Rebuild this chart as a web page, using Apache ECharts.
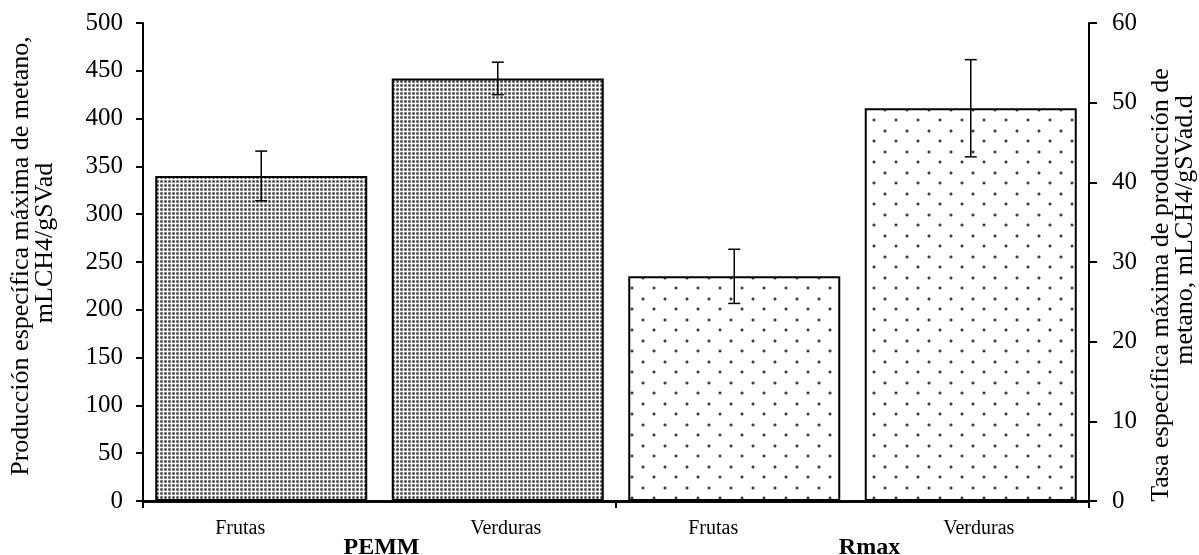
<!DOCTYPE html>
<html>
<head>
<meta charset="utf-8">
<script src="https://cdn.jsdelivr.net/npm/echarts@6/dist/echarts.min.js"></script>
<style>
  html, body { margin: 0; padding: 0; background: #fff; }
  #chart { width: 1199px; height: 555px; }
</style>
</head>
<body>
<div id="chart"></div>
<script>
// Categories and groups along the bottom axis
const categories = ['Frutas', 'Verduras', 'Frutas', 'Verduras'];
const groups = ['PEMM', 'Rmax'];

// PEMM (left axis), mLCH4/gSVad: mean and standard deviation
const pemmMean = [340, 442];
const pemmErr = [26, 17];

// Rmax (right axis), mLCH4/gSVad.d: mean and standard deviation
const rmaxMean = [28.2, 49.3];
const rmaxErr = [3.4, 6.1];

// Axis ticks
const leftTicks = { min: 0, max: 500, interval: 50 };
const rightTicks = { min: 0, max: 60, interval: 10 };

// Axis titles, one entry per line
const leftTitle = ['Producción específica máxima de metano,', 'mLCH4/gSVad'];
const rightTitle = ['Tasa específica máxima de producción de', 'metano, mLCH4/gSVad.d'];

const FONT = '"Liberation Serif", "Times New Roman", serif';

// Fill patterns for the two groups of bars
function densePattern() {
  const c = document.createElement('canvas');
  c.width = 4; c.height = 4;
  const g = c.getContext('2d');
  g.fillStyle = '#ffffff'; g.fillRect(0, 0, 4, 4);
  g.fillStyle = '#a0a0a0'; g.fillRect(0, 0, 3, 3);
  g.fillStyle = '#3a3a3a'; g.fillRect(1, 1, 1, 1);
  g.fillStyle = '#6a6a6a'; g.fillRect(0, 1, 1, 1); g.fillRect(1, 0, 1, 1);
  g.fillRect(2, 1, 1, 1); g.fillRect(1, 2, 1, 1);
  return c;
}
function sparsePattern() {
  const c = document.createElement('canvas');
  c.width = 22; c.height = 21;
  const g = c.getContext('2d');
  g.fillStyle = '#ffffff'; g.fillRect(0, 0, 22, 21);
  g.fillStyle = '#b0b0b0';
  g.fillRect(3, 3, 4, 4); g.fillRect(14, 13, 4, 4);
  g.fillStyle = '#ffffff';
  [[3, 3], [6, 3], [3, 6], [6, 6], [14, 13], [17, 13], [14, 16], [17, 16]]
    .forEach(p => g.fillRect(p[0], p[1], 1, 1));
  g.fillStyle = '#404040';
  g.fillRect(4, 4, 2, 2);
  g.fillRect(15, 14, 2, 2);
  return c;
}

const leftBars = categories.map((_, i) => i < pemmMean.length ? pemmMean[i] : '-');
const rightBars = categories.map((_, i) => i >= pemmMean.length ? rmaxMean[i - pemmMean.length] : '-');
const leftErr = pemmMean.map((m, i) => [i, m - pemmErr[i], m + pemmErr[i]]);
const rightErr = rmaxMean.map((m, i) => [i + pemmMean.length, m - rmaxErr[i], m + rmaxErr[i]]);

function errorBar(params, api) {
  const x = api.value(0);
  const lo = api.coord([x, api.value(1)]);
  const hi = api.coord([x, api.value(2)]);
  const half = 6;
  const style = { stroke: '#000', lineWidth: 1.5 };
  return {
    type: 'group',
    children: [
      { type: 'line', shape: { x1: hi[0], y1: hi[1], x2: lo[0], y2: lo[1] }, style },
      { type: 'line', shape: { x1: hi[0] - half, y1: hi[1], x2: hi[0] + half, y2: hi[1] }, style },
      { type: 'line', shape: { x1: lo[0] - half, y1: lo[1], x2: lo[0] + half, y2: lo[1] }, style }
    ]
  };
}

const chart = echarts.init(document.getElementById('chart'), null, { renderer: 'canvas' });

const axisLineStyle = { color: '#000', width: 2 };
const titleText = { fontFamily: FONT, fontSize: 26, color: '#000', lineHeight: 24 };
const titleLine = pad => Object.assign({}, titleText, { padding: pad });

chart.setOption({
  animation: false,
  backgroundColor: '#fff',
  grid: { left: 143, right: 110, top: 23, bottom: 54, containLabel: false, outerBoundsMode: 'none' },
  xAxis: [
    {
      type: 'category',
      data: categories,
      position: 'bottom',
      axisLine: { show: true, lineStyle: { color: '#000', width: 2.5 } },
      axisTick: { show: false },
      axisLabel: {
        margin: 18,
        interval: 0,
        formatter: v => v === 'Frutas' ? '{f|' + v + '}' : '{v|' + v + '}',
        rich: {
          f: { fontFamily: FONT, fontSize: 20, color: '#000', padding: [0, 42, 0, 0] },
          v: { fontFamily: FONT, fontSize: 20, color: '#000', padding: [0, 0, 0, 16] }
        }
      },
      splitLine: { show: false }
    },
    {
      type: 'category',
      data: groups,
      position: 'bottom',
      offset: 0,
      axisLine: { show: true, lineStyle: { color: '#000', width: 2.5 } },
      axisTick: { show: true, length: 7, lineStyle: { color: '#000', width: 2 } },
      axisLabel: {
        margin: 35,
        interval: 0,
        formatter: (v, i) => i === 1 ? '{r|' + v + '}' : '{p|' + v + '}',
        rich: {
          p: { fontFamily: FONT, fontSize: 24, fontWeight: 'bold', color: '#000', padding: [0, 0, 0, 4] },
          r: { fontFamily: FONT, fontSize: 24, fontWeight: 'bold', color: '#000', padding: [0, 0, 0, 34] }
        }
      },
      splitLine: { show: false }
    }
  ],
  yAxis: [
    {
      type: 'value',
      position: 'left',
      min: leftTicks.min, max: leftTicks.max, interval: leftTicks.interval,
      name: '{a|' + leftTitle[0] + '}\n{b|' + leftTitle[1] + '}',
      nameLocation: 'middle',
      nameGap: 86,
      nameRotate: 90,
      nameTextStyle: Object.assign({}, titleText, {
        rich: { a: titleLine([0, 0, 0, 12]), b: titleLine([0, 0, 0, 38]) }
      }),
      axisLine: { show: true, lineStyle: axisLineStyle },
      axisTick: { show: true, length: 7, inside: false, lineStyle: axisLineStyle },
      axisLabel: { margin: 20, fontFamily: FONT, fontSize: 25, color: '#000' },
      splitLine: { show: false }
    },
    {
      type: 'value',
      position: 'right',
      min: rightTicks.min, max: rightTicks.max, interval: rightTicks.interval,
      name: '{a|' + rightTitle[0] + '}\n{b|' + rightTitle[1] + '}',
      nameLocation: 'middle',
      nameGap: 60,
      nameRotate: 90,
      nameTextStyle: Object.assign({}, titleText, {
        rich: { a: titleLine([0, 46, 0, 0]), b: titleLine([0, 0, 0, 64]) }
      }),
      axisLine: { show: true, lineStyle: axisLineStyle },
      axisTick: { show: true, length: 8, inside: false, lineStyle: axisLineStyle },
      axisLabel: { margin: 23, fontFamily: FONT, fontSize: 25, color: '#000' },
      splitLine: { show: false }
    }
  ],
  series: [
    {
      name: 'PEMM',
      type: 'bar',
      xAxisIndex: 0,
      yAxisIndex: 0,
      data: leftBars,
      barWidth: 212,
      barGap: '-100%',
      itemStyle: {
        color: { image: densePattern(), repeat: 'repeat' },
        borderColor: '#000',
        borderWidth: 2
      }
    },
    {
      name: 'Rmax',
      type: 'bar',
      xAxisIndex: 0,
      yAxisIndex: 1,
      data: rightBars,
      barWidth: 212,
      barGap: '-100%',
      itemStyle: {
        color: { image: sparsePattern(), repeat: 'repeat' },
        borderColor: '#000',
        borderWidth: 2
      }
    },
    {
      type: 'custom',
      xAxisIndex: 0,
      yAxisIndex: 0,
      renderItem: errorBar,
      data: leftErr,
      z: 10
    },
    {
      type: 'custom',
      xAxisIndex: 0,
      yAxisIndex: 1,
      renderItem: errorBar,
      data: rightErr,
      z: 10
    }
  ]
});
</script>
</body>
</html>
